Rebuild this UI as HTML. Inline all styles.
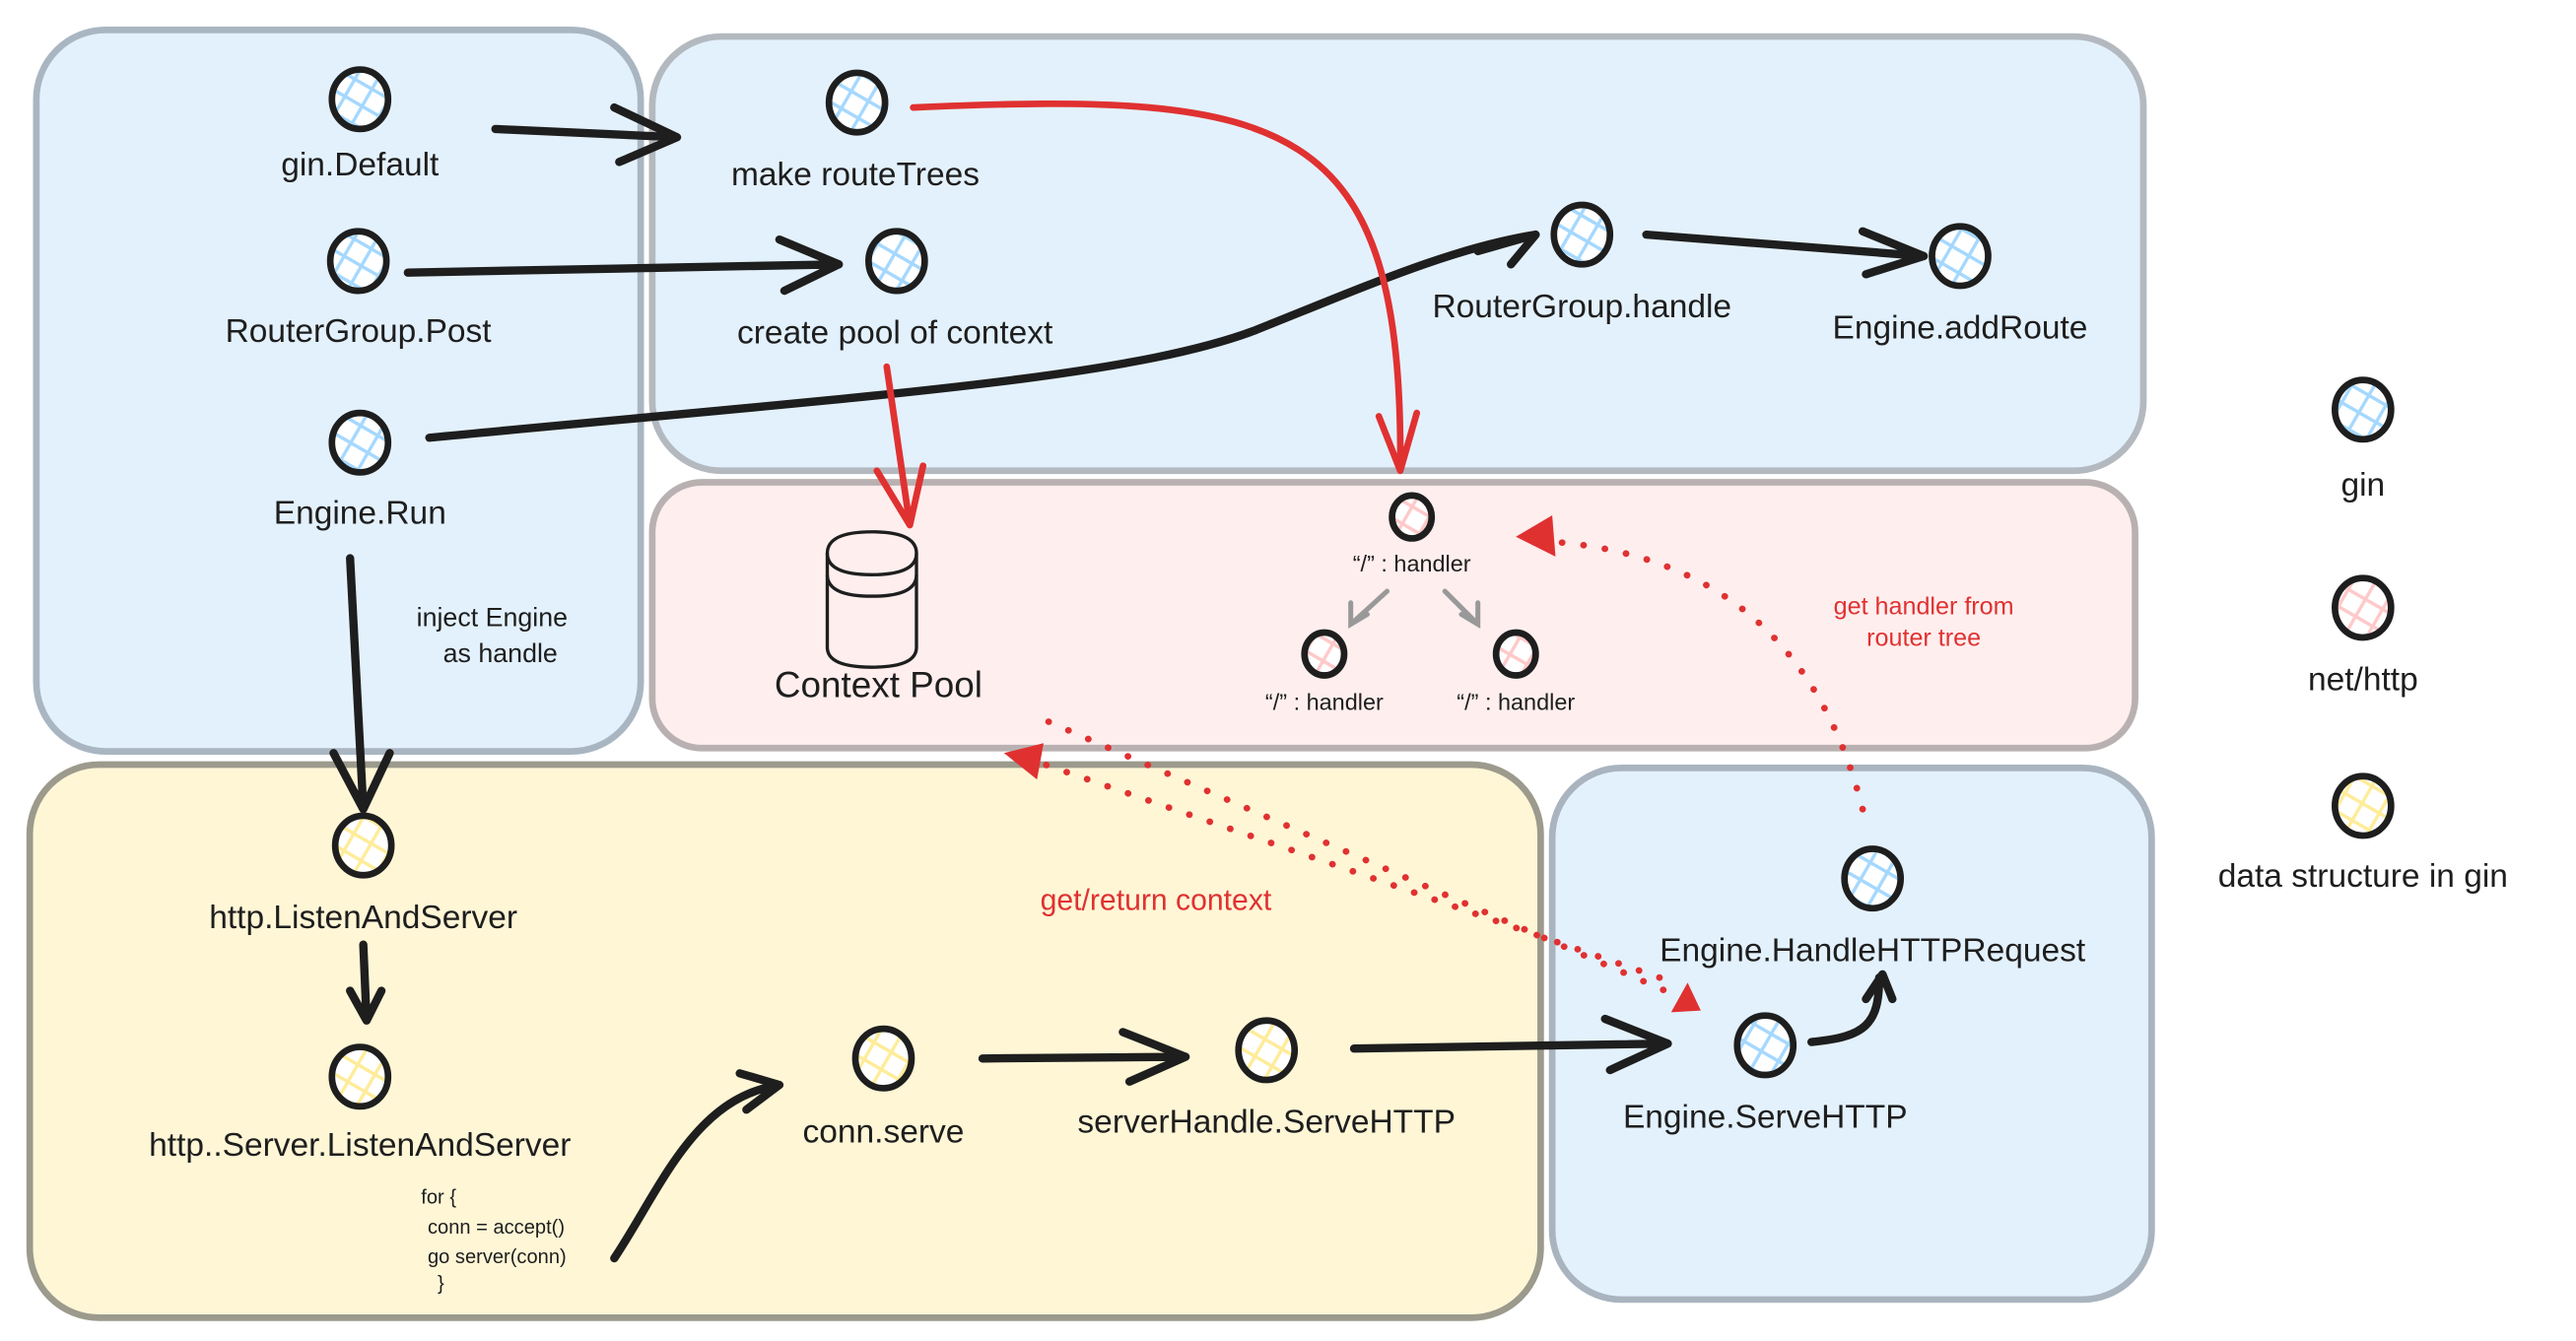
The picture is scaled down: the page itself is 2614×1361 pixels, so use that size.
<!DOCTYPE html>
<html><head><meta charset="utf-8"><style>
html,body{margin:0;padding:0;background:#fff;}
svg{display:block;}
text{font-family:"Liberation Sans",sans-serif;fill:#1e1e1e;text-anchor:middle;}
.l{font-size:20px;}
.s{font-size:14px;}
.r{fill:#e03131;}
</style></head><body>
<svg width="2614" height="1361" viewBox="0 0 1560 812" xmlns="http://www.w3.org/2000/svg">
<defs>
<pattern id="hb" width="12" height="12" patternUnits="userSpaceOnUse" patternTransform="rotate(30)"><rect width="12" height="12" fill="#fff"/><path d="M0,6H12M6,0V12" stroke="#a5d8ff" stroke-width="2"/></pattern>
<pattern id="hp" width="12" height="12" patternUnits="userSpaceOnUse" patternTransform="rotate(30)"><rect width="12" height="12" fill="#fff"/><path d="M0,6H12M6,0V12" stroke="#ffc9c9" stroke-width="2"/></pattern>
<pattern id="hy" width="12" height="12" patternUnits="userSpaceOnUse" patternTransform="rotate(30)"><rect width="12" height="12" fill="#fff"/><path d="M0,6H12M6,0V12" stroke="#ffec99" stroke-width="2"/></pattern>
</defs>
<rect x="22" y="18" width="366" height="437" rx="42" fill="#e3f1fd" stroke="#a9b6c2" stroke-width="4"/>
<rect x="395" y="22" width="903" height="263" rx="42" fill="#e3f1fd" stroke="#b3b9bf" stroke-width="4"/>
<rect x="395" y="292" width="898" height="161" rx="30" fill="#ffeeee" stroke="#b9b1b1" stroke-width="4"/>
<rect x="18" y="463" width="915" height="335" rx="42" fill="#fff6d6" stroke="#9c9a8c" stroke-width="4"/>
<rect x="940" y="465" width="363" height="322" rx="42" fill="#e3f1fd" stroke="#a9b4bf" stroke-width="4"/>

<g stroke="#1e1e1e" stroke-width="4">
<ellipse cx="218" cy="60" rx="17" ry="18" fill="url(#hb)"/>
<ellipse cx="217" cy="158" rx="17" ry="18" fill="url(#hb)"/>
<ellipse cx="218" cy="268" rx="17" ry="18" fill="url(#hb)"/>
<ellipse cx="519" cy="62" rx="17" ry="18" fill="url(#hb)"/>
<ellipse cx="543" cy="158" rx="17" ry="18" fill="url(#hb)"/>
<ellipse cx="958" cy="142" rx="17" ry="18" fill="url(#hb)"/>
<ellipse cx="1187" cy="155" rx="17" ry="18" fill="url(#hb)"/>
<ellipse cx="1431" cy="248" rx="17" ry="18" fill="url(#hb)"/>
<ellipse cx="1431" cy="368" rx="17" ry="18" fill="url(#hp)"/>
<ellipse cx="1431" cy="488" rx="17" ry="18" fill="url(#hy)"/>
<ellipse cx="855" cy="313" rx="12" ry="13" fill="url(#hp)"/>
<ellipse cx="802" cy="396" rx="12" ry="13" fill="url(#hp)"/>
<ellipse cx="918" cy="396" rx="12" ry="13" fill="url(#hp)"/>
<ellipse cx="220" cy="512" rx="17" ry="18" fill="url(#hy)"/>
<ellipse cx="218" cy="652" rx="17" ry="18" fill="url(#hy)"/>
<ellipse cx="535" cy="641" rx="17" ry="18" fill="url(#hy)"/>
<ellipse cx="767" cy="636" rx="17" ry="18" fill="url(#hy)"/>
<ellipse cx="1134" cy="532" rx="17" ry="18" fill="url(#hb)"/>
<ellipse cx="1069" cy="633" rx="17" ry="18" fill="url(#hb)"/>
</g>
<g stroke="#1e1e1e" stroke-width="2" fill="none">
<path d="M501,335 Q501,322 528,322 Q555,322 555,335 L555,392 Q555,404 528,404 Q501,404 501,392 Z" fill="#ffeeee"/>
<path d="M501,335 Q501,348 528,348 Q555,348 555,335"/>
<path d="M501,348 Q501,361 528,361 Q555,361 555,348"/>
</g>

<g stroke="#1e1e1e" stroke-width="5" fill="none" stroke-linecap="round" stroke-linejoin="round">
<path d="M300,78 L410,83 M372,65 L410,83 L375,98"/>
<path d="M247,165 L508,160 M472,145 L508,160 L475,176"/>
<path d="M260,265 C520,240 680,230 760,200 C830,172 880,150 930,142 M895,152 L930,142 M915,160 L930,142"/>
<path d="M997,142 L1165,155 M1128,140 L1165,155 L1130,166"/>
<path d="M212,338 L220,490 M202,456 L220,490 L236,456"/>
<path d="M220,572 L222,618 M212,600 L222,618 L231,600"/>
<path d="M372,762 C400,720 420,665 472,657 M448,650 L472,657 L452,672"/>
<path d="M595,641 L718,640 M680,625 L718,640 L684,655"/>
<path d="M820,635 L1010,632 M972,617 L1010,632 L975,648"/>
<path d="M1097,631 C1130,628 1138,620 1138,592 M1130,605 L1140,590 L1146,605"/>
</g>
<g stroke="#e03131" stroke-width="4" fill="none" stroke-linecap="round" stroke-linejoin="round">
<path d="M553,65 C780,55 850,70 848,285 M835,252 L848,285 L858,250"/>
<path d="M537,222 L551,318 M531,285 L551,318 L559,282"/>
</g>
<g stroke="#e03131" stroke-width="4" fill="none" stroke-linecap="round" stroke-dasharray="0.1 13">
<path d="M1128,490 C1100,380 1030,335 940,328"/>
<path d="M635,437 L1020,605"/>
<path d="M1005,592 L630,462"/>
</g>
<g fill="#e03131">
<polygon points="918,325 940,312 942,337"/>
<polygon points="1012,613 1022,595 1030,612"/>
<polygon points="608,456 632,450 628,472"/>
</g>
<g stroke="#999" stroke-width="3" fill="none" stroke-linecap="round">
<path d="M840,358 L818,378 M818,365 L818,378 L828,372"/>
<path d="M875,358 L895,378 M895,365 L895,378 L885,372"/>
</g>

<text class="l" x="218" y="106">gin.Default</text>
<text class="l" x="217" y="207">RouterGroup.Post</text>
<text class="l" x="218" y="317">Engine.Run</text>
<text class="l" x="518" y="112">make routeTrees</text>
<text class="l" x="542" y="208">create pool of context</text>
<text class="l" x="958" y="192">RouterGroup.handle</text>
<text class="l" x="1187" y="205">Engine.addRoute</text>
<text class="l" x="1431" y="300">gin</text>
<text class="l" x="1431" y="418">net/http</text>
<text class="l" x="1431" y="537">data structure in gin</text>
<text class="l" x="532" y="422" style="font-size:22px">Context Pool</text>
<text class="s" x="855" y="346">“/” : handler</text>
<text class="s" x="802" y="430">“/” : handler</text>
<text class="s" x="918" y="430">“/” : handler</text>
<text class="s" x="298" y="379" style="font-size:16px">inject Engine</text>
<text class="s" x="303" y="401" style="font-size:16px">as handle</text>
<text class="l" x="220" y="562">http.ListenAndServer</text>
<text class="l" x="218" y="700">http..Server.ListenAndServer</text>
<text class="l" x="535" y="692">conn.serve</text>
<text class="l" x="767" y="686">serverHandle.ServeHTTP</text>
<text class="l" x="1134" y="582">Engine.HandleHTTPRequest</text>
<text class="l" x="1069" y="683">Engine.ServeHTTP</text>
<text class="l r" x="700" y="551" style="font-size:18px">get/return context</text>
<text class="s r" x="1165" y="372" style="font-size:15px">get handler from</text>
<text class="s r" x="1165" y="391" style="font-size:15px">router tree</text>
<text x="255" y="729" style="text-anchor:start;font-size:12px">for {</text>
<text x="259" y="747" style="text-anchor:start;font-size:12px">conn = accept()</text>
<text x="259" y="765" style="text-anchor:start;font-size:12px">go server(conn)</text>
<text x="265" y="781" style="text-anchor:start;font-size:12px">}</text>
</svg>
</body></html>
